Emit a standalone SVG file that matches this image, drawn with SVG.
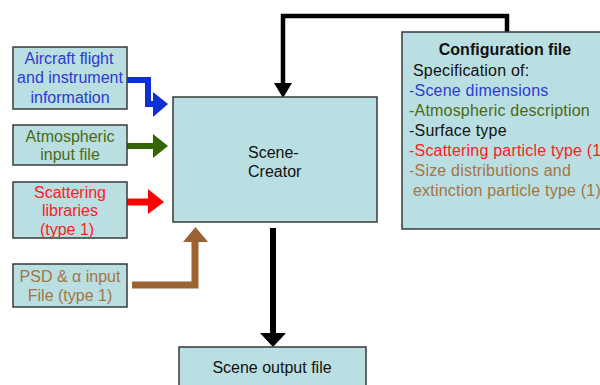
<svg xmlns="http://www.w3.org/2000/svg" width="600" height="385" viewBox="0 0 600 385">
  <style>
    .box { fill: #badfe2; stroke: #3a3a3a; stroke-width: 1.5; }
    text { font-family: "Liberation Sans", Arial, sans-serif; font-size: 16px; }
    .c { text-anchor: middle; }
    .blue { fill: #2a3ad8; }
    .green { fill: #4a6a16; }
    .red { fill: #ff2020; }
    .brown { fill: #a47445; }
    .dark { fill: #111; }
    .spec { letter-spacing: 0.2px; }
  </style>
  <rect width="600" height="385" fill="#fff"/>

  <g id="connectors">
    <!-- config -> scene creator -->
    <polyline points="507,32 507,16 283,16 283,84" fill="none" stroke="#000" stroke-width="4.5"/>
    <polygon points="274,83 292,83 283,98" fill="#000"/>
    <!-- scene creator -> output -->
    <line x1="273" y1="228" x2="273" y2="334" stroke="#000" stroke-width="6"/>
    <polygon points="260,333 286,333 273,347" fill="#000"/>
    <!-- aircraft -> scene creator -->
    <polyline points="127,80 148,80 148,104 155,104" fill="none" stroke="#0a30d6" stroke-width="6"/>
    <polygon points="153,92 168,104 153,117" fill="#0a30d6"/>
    <!-- atmospheric -> scene creator -->
    <line x1="127" y1="146" x2="155" y2="146" stroke="#336600" stroke-width="6"/>
    <polygon points="153,134 168,146 153,158" fill="#336600"/>
    <!-- scattering -> scene creator -->
    <line x1="127" y1="202" x2="150" y2="202" stroke="#ff0000" stroke-width="7"/>
    <polygon points="148,189 164,202 148,214" fill="#ff0000"/>
    <!-- PSD -> scene creator -->
    <polyline points="132,285 195,285 195,240" fill="none" stroke="#9b6232" stroke-width="7"/>
    <polygon points="183,242 208,242 195.5,227" fill="#9b6232"/>
  </g>

  <g id="aircraft">
    <rect class="box" x="13" y="47" width="114" height="62"/>
    <text class="c blue" x="69" y="64">Aircraft flight</text>
    <text class="c blue" x="70" y="83">and instrument</text>
    <text class="c blue" x="70" y="103">information</text>
  </g>

  <g id="atmospheric">
    <rect class="box" x="13" y="125" width="114" height="40"/>
    <text class="c green" x="70" y="142">Atmospheric</text>
    <text class="c green" x="70" y="160">input file</text>
  </g>

  <g id="scattering">
    <rect class="box" x="13" y="182" width="114" height="56"/>
    <text class="c red" x="70" y="198">Scattering</text>
    <text class="c red" x="70" y="216">libraries</text>
    <text class="c red" x="67" y="235">(type 1)</text>
  </g>

  <g id="psd">
    <rect class="box" x="13" y="264" width="114" height="43"/>
    <text class="c brown" x="70" y="282">PSD &amp; α input</text>
    <text class="c brown" x="70" y="301">File (type 1)</text>
  </g>

  <g id="scene-creator">
    <rect class="box" x="173" y="97" width="204" height="125"/>
    <text class="dark" x="248" y="158" font-size="15">Scene-</text>
    <text class="dark" x="248" y="177" font-size="15">Creator</text>
  </g>

  <g id="configuration">
    <rect class="box" x="402" y="32" width="210" height="197"/>
    <text class="c dark" x="505" y="55" font-weight="bold">Configuration file</text>
    <text class="dark spec" x="413" y="76">Specification of:</text>
    <text class="blue spec" x="409" y="96">-Scene dimensions</text>
    <text class="green spec" x="409" y="116">-Atmospheric description</text>
    <text class="dark spec" x="409" y="136">-Surface type</text>
    <text class="red spec" x="409" y="156">-Scattering particle type (1)</text>
    <text class="brown spec" x="409" y="176">-Size distributions and</text>
    <text class="brown spec" x="413" y="196">extinction particle type (1)</text>
  </g>

  <g id="scene-output">
    <rect class="box" x="179" y="347" width="187" height="45"/>
    <text class="c dark" x="272" y="373">Scene output file</text>
  </g>
</svg>
